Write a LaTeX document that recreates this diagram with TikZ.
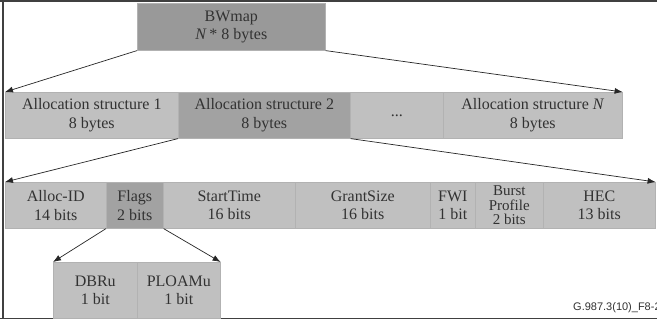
\documentclass[tikz,border=0pt]{standalone}
\usepackage{fontspec}
\setmainfont{Liberation Serif}
\setsansfont{Liberation Sans}
\usetikzlibrary{arrows.meta}
\definecolor{light}{RGB}{192,192,192}
\definecolor{darkc}{RGB}{162,162,162}
\definecolor{bwc}{RGB}{153,153,153}
\definecolor{txt}{RGB}{50,50,50}
\definecolor{divc}{RGB}{178,178,178}
\begin{document}
\begin{tikzpicture}[x=1pt,y=-1pt,
  cell/.style={draw=divc, line width=0.6pt, fill=light, inner sep=0pt, anchor=north west,
    align=center, text=txt, font=\fontsize{16}{18.5}\selectfont},
  darkcell/.style={cell, fill=darkc},
  arr/.style={-{Latex[length=8pt,width=6pt]}, line width=0.7pt, black!85},
  frame/.style={line width=1.6pt, black!75}]
\useasboundingbox (0,0) rectangle (657,326);
\clip (0,0) rectangle (657,326);
\fill[white] (0,0) rectangle (657,326);
% frame
\draw[frame] (3,-5) -- (3,318.5);
\draw[frame] (0,1) -- (660,1);
\draw[frame] (0,318.5) -- (660,318.5);
% top
\node[cell, fill=bwc, minimum width=188pt, minimum height=47pt] (bw) at (137,3) {BWmap\\\textit{N}\,* 8 bytes};
% row 2
\node[cell, minimum width=173pt, minimum height=46pt] (a1) at (5,92) {Allocation structure 1\\8 bytes};
\node[darkcell, minimum width=172pt, minimum height=46pt] (a2) at (178,92) {Allocation structure 2\\8 bytes};
\node[cell, minimum width=93pt, minimum height=46pt] (dots) at (350,92) {...};
\node[cell, minimum width=179pt, minimum height=46pt] (aN) at (443,92) {Allocation structure \textit{N}\\8 bytes};
% row 3
\node[cell, minimum width=101pt, minimum height=46pt] (id) at (5,182) {Alloc-ID\\14 bits};
\node[darkcell, minimum width=57pt, minimum height=46pt] (flags) at (106,182) {Flags\\2 bits};
\node[cell, minimum width=132pt, minimum height=46pt] (st) at (163,182) {StartTime\\16 bits};
\node[cell, minimum width=135pt, minimum height=46pt] (gs) at (295,182) {GrantSize\\16 bits};
\node[cell, minimum width=45pt, minimum height=46pt] (fwi) at (430,182) {FWI\\1 bit};
\node[cell, minimum width=68pt, minimum height=46pt, font=\fontsize{15}{14.2}\selectfont] (bp) at (475,182) {Burst\\Profile\\2 bits};
\node[cell, minimum width=112pt, minimum height=46pt] (hec) at (543,182) {HEC\\13 bits};
% row 4
\node[cell, minimum width=84pt, minimum height=56pt] (dbru) at (53,262) {DBRu\\1 bit};
\node[cell, minimum width=83pt, minimum height=56pt] (ploamu) at (137,262) {PLOAMu\\1 bit};
% arrows
\draw[arr] (bw.south west) -- (a1.north west);
\draw[arr] (bw.south east) -- (aN.north east);
\draw[arr] (a2.south west) -- (id.north west);
\draw[arr] (a2.south east) -- (hec.north east);
\draw[arr] (flags.south west) -- (dbru.north west);
\draw[arr] (flags.south east) -- (ploamu.north east);
% label
\node[anchor=base west, inner sep=0pt, text=txt, font=\sffamily\fontsize{11}{12}\selectfont] (lbl) at (573,310) {G.987.3(10)\_F8-2};
\end{tikzpicture}
\end{document}
